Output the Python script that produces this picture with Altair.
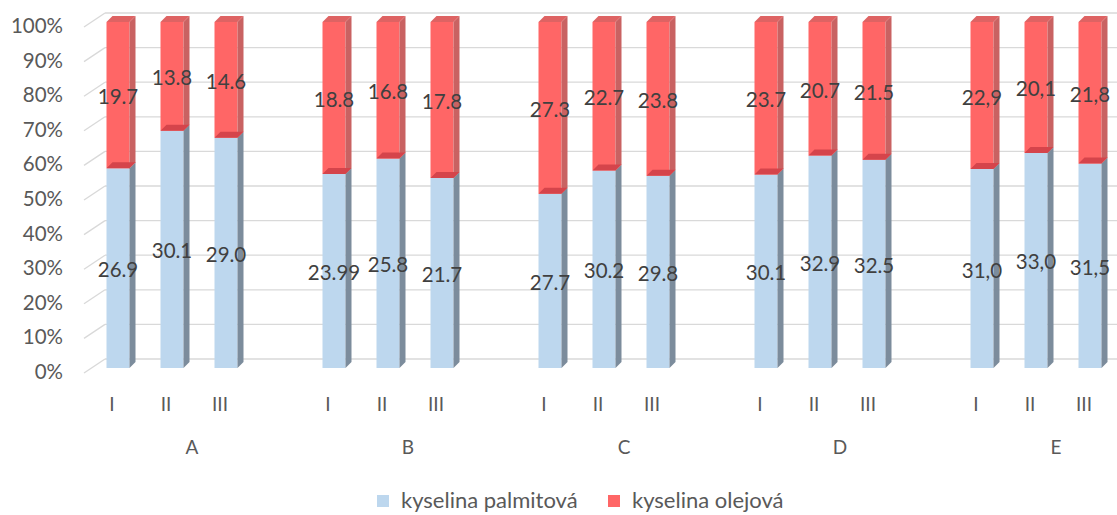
import altair as alt
import pandas as pd

# ---------------- data ----------------
groups = ["A", "B", "C", "D", "E"]
subs = ["I", "II", "III"]
palm = [26.9, 30.1, 29.0, 23.99, 25.8, 21.7, 27.7, 30.2, 29.8, 30.1, 32.9, 32.5, 31.0, 33.0, 31.5]
olej = [19.7, 13.8, 14.6, 18.8, 16.8, 17.8, 27.3, 22.7, 23.8, 23.7, 20.7, 21.5, 22.9, 20.1, 21.8]
palm_txt = ["26.9", "30.1", "29.0", "23.99", "25.8", "21.7", "27.7", "30.2", "29.8",
            "30.1", "32.9", "32.5", "31,0", "33,0", "31,5"]
olej_txt = ["19.7", "13.8", "14.6", "18.8", "16.8", "17.8", "27.3", "22.7", "23.8",
            "23.7", "20.7", "21.5", "22,9", "20,1", "21,8"]
series_names = ["kyselina palmitová", "kyselina olejová"]
ticks = [0, 10, 20, 30, 40, 50, 60, 70, 80, 90, 100]

# ---------------- style ----------------
BLUE = "#BDD7EE"
RED = "#FF6666"
BLUE_SIDE = "#7C8C9C"
RED_SIDE = "#C96262"
RED_CAP = "#DE6363"
RED_STRIP = "#D5444B"
GRID = "#D9D9D9"
FONT = "Lato"

SLOTS = 4                 # 3 bars + gap per group
PX_X = 54.0               # pixels per slot
PX_Y = 346.0              # pixels for 100 %
HW = 11.5 / PX_X          # half front width
DX = 6.0 / PX_X           # 3D depth x
DY = 6.0 / PX_Y           # 3D depth y

xs = alt.Scale(domain=[0, 18], range=[118, 1090], nice=False, zero=False, padding=0)
ys = alt.Scale(domain=[0, 1], range=[368, 22], nice=False, zero=False, padding=0)

# ---------------- frames ----------------
front, side, caps, labels, cats = [], [], [], [], []
for g, gname in enumerate(groups):
    for i, s in enumerate(subs):
        k = g * 3 + i
        p, o = palm[k], olej[k]
        b = p / (p + o)
        slot = g * SLOTS + i
        front.append(dict(slot=slot, x1=slot - HW, x2=slot + HW, lo=0.0, hi=b, series=series_names[0]))
        front.append(dict(slot=slot, x1=slot - HW, x2=slot + HW, lo=b, hi=1.0, series=series_names[1]))
        for part, lo, hi in (("blue", 0.0, b), ("red", b, 1.0)):
            side.append(dict(id=f"{k}{part}", part=part, x=slot + HW, y=lo, y2=hi))
            side.append(dict(id=f"{k}{part}", part=part, x=slot + HW + DX, y=lo + DY, y2=hi + DY))
        for part, yv in (("strip", b), ("cap", 1.0)):
            caps.append(dict(id=f"{k}{part}", part=part, y=yv, x=slot - HW, x2=slot + HW))
            caps.append(dict(id=f"{k}{part}", part=part, y=yv + DY, x=slot - HW + DX, x2=slot + HW + DX))
        labels.append(dict(slot=slot, y=b / 2, t=palm_txt[k]))
        labels.append(dict(slot=slot, y=(b + 1) / 2, t=olej_txt[k]))
        cats.append(dict(slot=slot, t=s))

df_front = pd.DataFrame(front)
df_side = pd.DataFrame(side)
df_caps = pd.DataFrame(caps)
df_lab = pd.DataFrame(labels)
df_cat = pd.DataFrame(cats)
df_grp = pd.DataFrame(dict(slot=[g * SLOTS + 1 for g in range(len(groups))], t=groups))
df_tick = pd.DataFrame(dict(v=[t / 100 for t in ticks], t=[f"{t}%" for t in ticks]))
df_tick["xl"] = -34.0 / PX_X
df_tick["xb"] = -13.0 / PX_X
df_tick["xr"] = 999.0 / PX_X

# ---------------- layers ----------------
grid_diag = alt.Chart(df_tick).mark_rule(color=GRID, strokeWidth=1.3, yOffset=5, y2Offset=-9).encode(
    x=alt.X("xl:Q", scale=xs, axis=None), x2="xb:Q",
    y=alt.Y("v:Q", scale=ys, axis=None), y2="v:Q")
grid_back = alt.Chart(df_tick).mark_rule(color=GRID, strokeWidth=1.3, yOffset=-9).encode(
    x=alt.X("xb:Q", scale=xs, axis=None), x2="xr:Q",
    y=alt.Y("v:Q", scale=ys, axis=None))

bars = alt.Chart(df_front).mark_bar().encode(
    x=alt.X("x1:Q", scale=xs, axis=None), x2="x2:Q",
    y=alt.Y("lo:Q", scale=ys, axis=None), y2="hi:Q",
    color=alt.Color("series:N",
                    scale=alt.Scale(domain=series_names, range=[BLUE, RED]),
                    legend=alt.Legend(orient="none", legendX=372, legendY=490, direction="horizontal",
                                      title=None, symbolType="square", symbolSize=144,
                                      symbolStrokeWidth=0, labelFont=FONT, labelFontSize=22,
                                      labelLimit=0, labelColor="#595959", labelOffset=7,
                                      columnPadding=25)))

def side_layer(part, color):
    return alt.Chart(df_side[df_side.part == part]).mark_area(color=color, orient="vertical").encode(
        x=alt.X("x:Q", scale=xs, axis=None),
        y=alt.Y("y:Q", scale=ys, axis=None, stack=None), y2="y2:Q",
        detail="id:N")

def cap_layer(part, color):
    return alt.Chart(df_caps[df_caps.part == part]).mark_area(color=color, orient="horizontal").encode(
        y=alt.Y("y:Q", scale=ys, axis=None),
        x=alt.X("x:Q", scale=xs, axis=None, stack=None), x2="x2:Q",
        detail="id:N")

val_text = alt.Chart(df_lab).mark_text(font=FONT, fontSize=20.5, color="#404040",
                                      baseline="middle", align="center", dy=3).encode(
    x=alt.X("slot:Q", scale=xs, axis=None),
    y=alt.Y("y:Q", scale=ys, axis=None), text="t:N")

tick_text = alt.Chart(df_tick).mark_text(font=FONT, fontSize=20.5, color="#595959",
                                         baseline="middle", align="right", dy=5).encode(
    x=alt.value(63), y=alt.Y("v:Q", scale=ys, axis=None), text="t:N")

cat_text = alt.Chart(df_cat).mark_text(font=FONT, fontSize=19, color="#595959",
                                       baseline="middle", align="center", dx=-6).encode(
    x=alt.X("slot:Q", scale=xs, axis=None), y=alt.value(405), text="t:N")

grp_text = alt.Chart(df_grp).mark_text(font=FONT, fontSize=19, color="#595959",
                                       baseline="middle", align="center", dx=20).encode(
    x=alt.X("slot:Q", scale=xs, axis=None), y=alt.value(448), text="t:N")

chart = alt.layer(
    grid_diag, grid_back, bars,
    side_layer("blue", BLUE_SIDE), side_layer("red", RED_SIDE),
    cap_layer("strip", RED_STRIP), cap_layer("cap", RED_CAP),
    val_text, tick_text, cat_text, grp_text,
).properties(
    width=1117, height=515, padding=0, autosize="none", background="white"
).configure_view(stroke=None)

chart.save("out.html", embed_options={"renderer": "svg", "actions": False})
